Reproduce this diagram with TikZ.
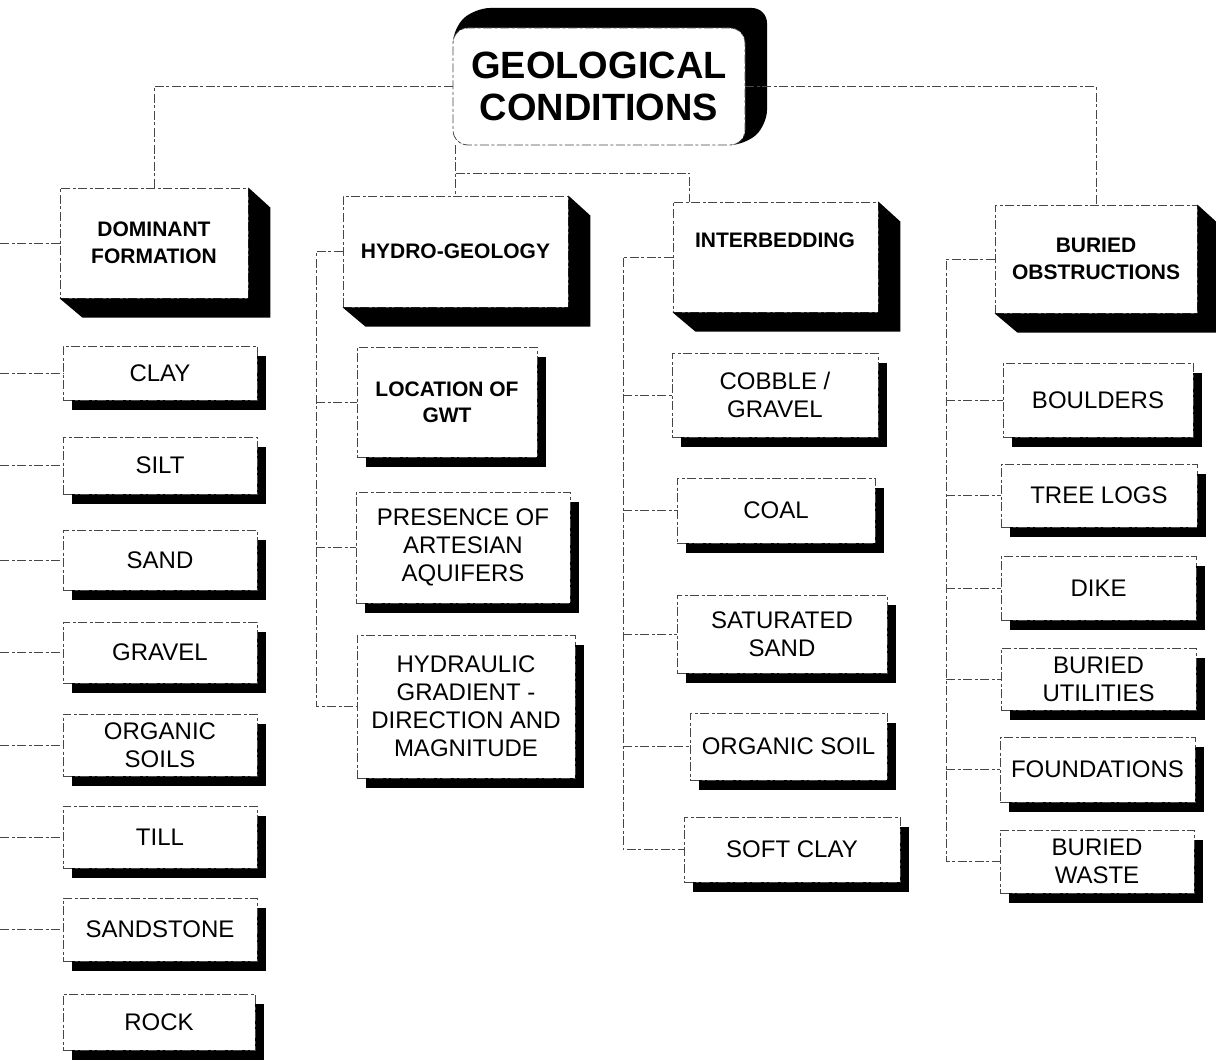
\documentclass[tikz,border=0pt]{standalone}
\usepackage{fontspec}
\setmainfont{Liberation Sans}
\usetikzlibrary{calc}
\tikzset{
  faint/.style={draw=black!72, line width=0.8pt, dash pattern=on 9pt off 2.5pt on 3pt off 2.5pt},
  conn/.style={faint},
  face/.style={faint, fill=white, inner sep=0pt, align=center},
  leaf/.style={face, font=\fontsize{24}{28}\selectfont},
  leafb/.style={face, font=\fontsize{21}{26}\selectfont\bfseries},
  hdr/.style={face, font=\fontsize{21}{26.5}\selectfont\bfseries},
  hdrtxt/.style={inner sep=0pt, align=center, font=\fontsize{21}{26.5}\selectfont\bfseries},
  ttl/.style={face, rounded corners=15pt, font=\fontsize{38}{42}\selectfont\bfseries},
}
% leaf box: style, name, L, T, R, B, text  (image pixel coordinates)
\newcommand\leafbox[7]{%
  \fill ({#3+9},{#4+10}) rectangle ({#5+9},{#6+10});
  \node[#1, minimum width={#5-#3}, minimum height={#6-#4}] (#2) at ({(#3+#5)/2},{(#4+#6)/2}) {#7};}
% header box with 3-D extrusion: name, L, T, R, B, text
\newcommand\hdrbox[6]{%
  \node[hdr, minimum width={#4-#2}, minimum height={#5-#3}] (#1) at ({(#2+#4)/2},{(#3+#5)/2}) {#6};
  \fill (#1.north east) -- ++(22,20) -- ++(0,{#5-#3}) -- ++({-(#4-#2)},0) -- (#1.south west) -- (#1.south east) -- cycle;}
\begin{document}
\begin{tikzpicture}[x=1pt, y=-1pt]
\useasboundingbox (0,0) rectangle (1216,1062);
\fill[white] (0,0) rectangle (1216,1062);

% title
\fill[rounded corners=15pt] (453,145) -- (453,28) -- (475,8) -- (767,8) -- (767,125) -- (745,145) -- cycle;
\node[ttl, minimum width=292, minimum height=117] (geo) at (599,86.5) {GEOLOGICAL\\CONDITIONS};

% headers
\hdrbox{dom}{60}{188}{248}{298}{DOMINANT\\FORMATION}
\hdrbox{hydro}{343}{196}{568}{307}{HYDRO-GEOLOGY}
\hdrbox{inter}{673}{202}{878}{312}{}
\node[hdrtxt] (interT) at (775,240) {INTERBEDDING};
\hdrbox{bur}{995}{205}{1197}{313}{BURIED\\OBSTRUCTIONS}

% column 1
\leafbox{leaf}{clay}{63}{346}{257}{400}{CLAY}
\leafbox{leaf}{silt}{63}{437}{257}{494}{SILT}
\leafbox{leaf}{sand}{63}{530}{257}{590}{SAND}
\leafbox{leaf}{gravel}{63}{622}{257}{683}{GRAVEL}
\leafbox{leaf}{orgs}{63}{714}{257}{776}{ORGANIC\\SOILS}
\leafbox{leaf}{till}{63}{806}{257}{868}{TILL}
\leafbox{leaf}{sandst}{63}{898}{257}{961}{SANDSTONE}
\leafbox{leaf}{rock}{63}{994}{255}{1050}{ROCK}

% column 2
\leafbox{leafb}{loc}{357}{347}{537}{457}{LOCATION OF\\GWT}
\leafbox{leaf}{pres}{356}{492}{570}{603}{PRESENCE OF\\ARTESIAN\\AQUIFERS}
\leafbox{leaf}{hgrad}{357}{635}{575}{778}{HYDRAULIC\\GRADIENT -\\DIRECTION AND\\MAGNITUDE}

% column 3
\leafbox{leaf}{cobble}{672}{353}{878}{437}{COBBLE /\\GRAVEL}
\leafbox{leaf}{coal}{677}{478}{875}{543}{COAL}
\leafbox{leaf}{satsand}{677}{595}{887}{673}{SATURATED\\SAND}
\leafbox{leaf}{orgsoil}{690}{713}{887}{780}{ORGANIC SOIL}
\leafbox{leaf}{softclay}{684}{817}{900}{882}{SOFT CLAY}

% column 4
\leafbox{leaf}{boulders}{1003}{363}{1193}{437}{BOULDERS}
\leafbox{leaf}{logs}{1001}{464}{1197}{527}{TREE LOGS}
\leafbox{leaf}{dike}{1001}{556}{1196}{620}{DIKE}
\leafbox{leaf}{util}{1001}{648}{1196}{710}{BURIED\\UTILITIES}
\leafbox{leaf}{found}{1000}{737}{1195}{802}{FOUNDATIONS}
\leafbox{leaf}{waste}{1000}{830}{1194}{893}{BURIED\\WASTE}

% connectors from the title
\draw[conn] (geo.west) -| (dom.north);
\draw[conn] (geo.east) -| (bur.north);
\draw[conn] (hydro.north |- geo.south) -- (hydro.north);
\coordinate (mj) at (455.5,173);
\draw[conn] (mj) -| ([xshift=17pt]inter.north west);

% column 1 (trunk lies beyond the left edge)
\coordinate (t1) at (0,0);
\foreach \n in {dom,clay,silt,sand,gravel,orgs,till,sandst}
  \draw[conn] (t1 |- \n.west) -- (\n.west);

% column 2
\coordinate (t2) at (316,0);
\draw[conn] (hydro.west) -- (t2 |- hydro.west) -- (t2 |- hgrad.west) -- (hgrad.west);
\foreach \n in {loc,pres}
  \draw[conn] (t2 |- \n.west) -- (\n.west);

% column 3
\coordinate (t3) at (623,0);
\draw[conn] (inter.west) -- (t3 |- inter.west) -- (t3 |- softclay.west) -- (softclay.west);
\foreach \n in {cobble,coal,satsand,orgsoil}
  \draw[conn] (t3 |- \n.west) -- (\n.west);

% column 4
\coordinate (t4) at (946,0);
\draw[conn] (bur.west) -- (t4 |- bur.west) -- (t4 |- waste.west) -- (waste.west);
\foreach \n in {boulders,logs,dike,util,found}
  \draw[conn] (t4 |- \n.west) -- (\n.west);
\end{tikzpicture}
\end{document}
